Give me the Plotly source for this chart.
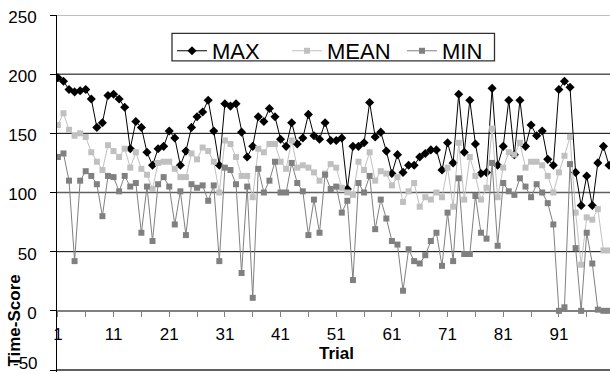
import plotly.graph_objects as go

trials = list(range(1, 101))

max_vals = [197, 194, 187, 185, 186, 187, 179, 155, 159, 182,
            183, 179, 172, 137, 160, 155, 134, 123, 137, 139,
            152, 146, 123, 135, 155, 164, 168, 178, 152, 123,
            175, 173, 175, 151, 130, 139, 164, 160, 171, 164,
            145, 139, 159, 141, 146, 166, 148, 145, 159, 144,
            144, 146, 103, 139, 139, 142, 176, 147, 151, 135,
            116, 132, 117, 123, 123, 130, 133, 136, 136, 119,
            142, 125, 183, 134, 178, 141, 116, 117, 188, 123,
            139, 178, 132, 178, 139, 157, 148, 152, 128, 123,
            187, 194, 189, 117, 89, 114, 89, 125, 139, 123]

mean_vals = [157, 167, 153, 148, 150, 147, 134, 126, 119, 140,
             135, 130, 137, 121, 134, 120, 115, 103, 125, 126,
             126, 120, 113, 113, 133, 128, 138, 135, 126, 100,
             144, 141, 130, 114, 114, 96, 137, 134, 141, 141,
             126, 120, 144, 121, 123, 121, 117, 110, 116, 124,
             121, 104, 100, 98, 126, 119, 134, 110, 118, 116,
             106, 113, 92, 101, 108, 88, 96, 94, 100, 96,
             121, 88, 142, 94, 130, 114, 94, 104, 154, 96,
             121, 134, 132, 142, 121, 126, 126, 123, 114, 100,
             117, 131, 147, 83, 39, 79, 77, 86, 51, 51]

min_vals = [130, 133, 110, 42, 110, 118, 114, 107, 80, 114,
            113, 101, 114, 105, 108, 66, 105, 59, 107, 113,
            105, 73, 101, 64, 107, 104, 106, 93, 106, 42,
            121, 119, 107, 32, 105, 11, 120, 100, 110, 126,
            100, 100, 125, 108, 101, 64, 94, 66, 115, 103,
            105, 83, 93, 26, 108, 100, 114, 69, 94, 78,
            59, 56, 17, 52, 42, 40, 47, 59, 66, 38,
            83, 42, 112, 48, 48, 97, 66, 61, 125, 55,
            108, 101, 98, 112, 105, 96, 107, 100, 91, 73,
            0, 3, 124, 53, 0, 66, 40, 1, 0, 0]

x_tick_vals = list(range(1, 100, 5))
x_tick_text = [str(v) if (v - 1) % 10 == 0 else "" for v in x_tick_vals]
y_tick_vals = [-50, 0, 50, 100, 150, 200, 250]
# the lowest label is placed separately (it sits at the picture's bottom edge)
y_tick_text = ["", "0", "50", "100", "150", "200", "250"]
bottom_label = "-50"

FONT = "Liberation Sans, Arial, sans-serif"
W, H = 610, 374
L, R, T, B = 57, 0, 15, 1.5
PW, PH = W - L - R, H - T - B
Y_MIN, Y_MAX = -51.69, 250


def px_x(p):
    return (p - L) / PW


def px_y(p):
    return (H - B - p) / PH


fig = go.Figure()
fig.add_trace(go.Scatter(
    x=trials, y=max_vals, name="MAX", mode="lines+markers",
    line=dict(color="#000000", width=1),
    marker=dict(symbol="diamond", size=7, color="#000000")))
fig.add_trace(go.Scatter(
    x=trials, y=mean_vals, name="MEAN", mode="lines+markers",
    line=dict(color="#C0C0C0", width=1),
    marker=dict(symbol="square", size=6, color="#C0C0C0")))
fig.add_trace(go.Scatter(
    x=trials, y=min_vals, name="MIN", mode="lines+markers",
    line=dict(color="#808080", width=1),
    marker=dict(symbol="square", size=6, color="#808080")))

grid_styles = {250: ("#808080", 1), 200: ("#000000", 1), 150: ("#000000", 1),
               100: ("#606060", 1.6), 50: ("#000000", 1), -50: ("#606060", 2)}
shapes = []
for v, (c, w) in grid_styles.items():
    shapes.append(dict(type="line", xref="paper", yref="y", x0=0, x1=1, y0=v, y1=v,
                       line=dict(color=c, width=w), layer="below"))
# legend frame
shapes.append(dict(type="rect", xref="paper", yref="paper",
                   x0=px_x(172), x1=px_x(494.5), y0=px_y(61), y1=px_y(33.5),
                   line=dict(color="#303030", width=1.3), fillcolor="white", layer="above"))

fig.update_layout(
    width=W, height=H,
    margin=dict(l=L, r=R, t=T, b=B, pad=0, autoexpand=False),
    paper_bgcolor="white", plot_bgcolor="white",
    font=dict(family=FONT, size=17, color="#000000"),
    showlegend=True,
    legend=dict(orientation="h", x=px_x(172), y=px_y(30), xanchor="left", yanchor="top",
                bgcolor="rgba(0,0,0,0)", borderwidth=0, font=dict(size=22),
                itemwidth=30, entrywidth=70, entrywidthmode="pixels"),
    shapes=shapes,
    xaxis=dict(range=[0.84, 100.18], anchor="free",
               position=(0 - Y_MIN) / (Y_MAX - Y_MIN),
               tickmode="array", tickvals=x_tick_vals, ticktext=x_tick_text,
               ticks="outside", ticklen=5, tickcolor="#808080", tickwidth=1,
               showline=True, linecolor="#808080", linewidth=1.5,
               showgrid=False, zeroline=False, ticklabelstandoff=3,
               automargin=False, tickfont=dict(size=17)),
    yaxis=dict(range=[Y_MIN, Y_MAX], tickmode="array", tickvals=y_tick_vals,
               ticktext=y_tick_text,
               ticks="outside", ticklen=6, tickcolor="#000000",
               showline=True, linecolor="#000000", linewidth=1,
               showgrid=False, zeroline=False, ticklabelstandoff=10,
               ticklabelshift=2, ticklabeloverflow="allow",
               automargin=False, tickfont=dict(size=17)),
    annotations=[
        dict(text="<b>Trial</b>", xref="paper", yref="paper",
             x=px_x(336), y=px_y(354), showarrow=False,
             font=dict(size=17), xanchor="center", yanchor="middle"),
        dict(text="<b>Time-Score</b>", xref="paper", yref="paper",
             x=px_x(15), y=px_y(321), showarrow=False, textangle=-90,
             font=dict(size=17), xanchor="center", yanchor="middle"),
        dict(text=bottom_label, xref="paper", yref="paper",
             x=px_x(40), y=px_y(364), showarrow=False,
             font=dict(size=17), xanchor="right", yanchor="middle"),
    ],
)

fig.write_html("out.html", config={"displayModeBar": False},
               post_script="document.body.style.margin='0px';")
